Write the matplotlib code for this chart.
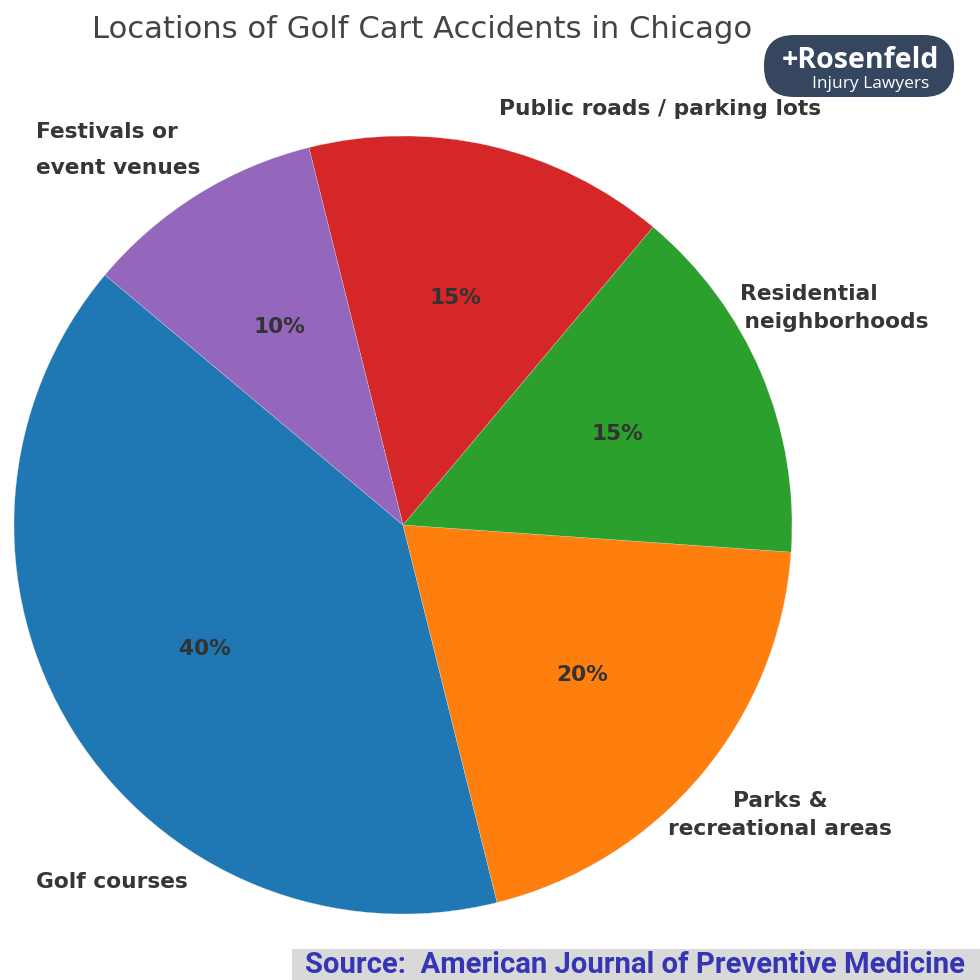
import matplotlib
matplotlib.use("Agg")
import matplotlib.pyplot as plt
from matplotlib.patches import FancyBboxPatch, Rectangle

title = "Locations of Golf Cart Accidents in Chicago"
categories = ["Golf courses", "Parks &\nrecreational areas", "Residential\n\u2009neighborhoods",
              "Public roads / parking lots", "Festivals or\nevent venues"]
values = [40, 20, 15, 15, 10]
colors = ["#1f77b4", "#ff7f0e", "#2ca02c", "#d62728", "#9467bd"]
source = "Source:  American Journal of Preventive Medicine"

fig = plt.figure(figsize=(9.8, 9.8), dpi=100, facecolor="white")
ax = fig.add_axes([0, 0, 1, 1])
ax.set_xlim(0, 980); ax.set_ylim(980, 0); ax.axis("off")
pie_ax = fig.add_axes([14/980, 1-914/980, 778/980, 778/980])
wedges, _, autotexts = pie_ax.pie(values, colors=colors, startangle=140, autopct="%1.0f%%",
                                  pctdistance=0.6, radius=1.0,
                                  wedgeprops=dict(edgecolor="#dddddd", linewidth=0.2),
                                  textprops=dict(fontsize=15.6, fontweight="bold", color="#333333"))
pie_ax.set_xlim(-1, 1); pie_ax.set_ylim(-1, 1)

ax.text(422, 30, title, ha="center", va="center", fontsize=22.1, color="#444444")
lab = dict(fontsize=15.7, fontweight="bold", color="#363636")
ax.text(36, 882, categories[0], ha="left", va="center", **lab)
ax.text(780, 815, categories[1], ha="center", va="center", linespacing=1.5, **lab)
ax.text(740, 308, categories[2], ha="left", va="center", linespacing=1.5, **lab)
ax.text(660, 109, categories[3], ha="center", va="center", **lab)
ax.text(36, 150, categories[4], ha="left", va="center", linespacing=2.0, **lab)

ax.add_patch(FancyBboxPatch((764, 35), 190, 62, boxstyle="round,pad=0,rounding_size=30",
                            mutation_aspect=1, fc="#36465f", ec="none", zorder=5))
ax.text(860, 61, "+Rosenfeld", ha="center", va="center", fontsize=20.5, color="white",
        family="Open Sans", fontweight="bold", zorder=6)
ax.text(871, 84, "Injury Lawyers", ha="center", va="center", fontsize=12.5, color="white",
        family="Open Sans", zorder=6)

ax.add_patch(Rectangle((292, 949), 688, 31, fc="#d9d9d9", ec="none", zorder=5))
ax.text(635, 965, source, ha="center", va="center", fontsize=21.1, fontweight="bold",
        color="#3535b5", family="Roboto", zorder=6)
fig.savefig("out.png", dpi=100)
